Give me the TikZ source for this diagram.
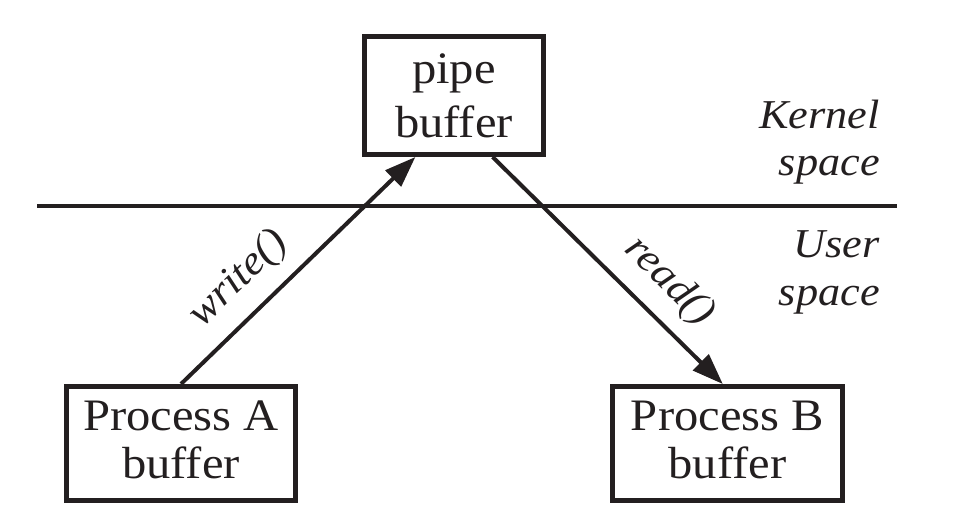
\documentclass[tikz,border=0pt]{standalone}
\usepackage{fontspec}
\setmainfont[FakeStretch=1.08]{Liberation Serif}
\usetikzlibrary{arrows.meta,calc}
\definecolor{ink}{HTML}{231F20}
\begin{document}
\begin{tikzpicture}[x=1pt,y=-1pt,
  box/.style={draw=ink, text=ink, line width=5pt, align=center, inner sep=0pt,
    font=\fontsize{45}{48}\selectfont},
  conn/.style={draw=ink, line width=4pt, -{Triangle[length=31pt,width=22pt]}},
  lbl/.style={text=ink, inner sep=0pt, font=\fontsize{41}{46}\selectfont\itshape},
  sep/.style={draw=ink, line width=3.5pt}]
\useasboundingbox (0,0) rectangle (959,517);
\node[box, font=\fontsize{45}{54}\selectfont, minimum width=179pt, minimum height=118pt] (pipe) at (454,95.5) {pipe\\buffer};
\node[box, minimum width=229pt, minimum height=114pt] (pa) at (181,443.5) {Process A\\buffer\rule[-8pt]{0pt}{8pt}};
\node[box, minimum width=230pt, minimum height=114pt] (pb) at (727.5,443.5) {Process B\\buffer\rule[-8pt]{0pt}{8pt}};
\coordinate (sl) at (37,206);
\coordinate (sr) at (897,206);
\draw[sep] (sl) -- (sr);
\node[lbl, anchor=base east] (k1) at (880,128) {Kernel};
\node[lbl, anchor=base east] (k2) at (880,175) {space};
\node[lbl, anchor=base east] (u1) at (880,257) {User};
\node[lbl, anchor=base east] (u2) at (880,305) {space};
\coordinate (wend) at ($(pipe.south west)!0.29!(pipe.south east)$);
\coordinate (rstart) at ($(pipe.south west)!0.71!(pipe.south east)$);
\coordinate (rend) at ($(pb.north west)!0.48!(pb.north east)$);
\draw[conn] (pa.north) -- node[lbl, sloped, pos=0.35, anchor=base, yshift=25pt] (wl) {write()} (wend);
\draw[conn] (rstart) -- node[lbl, sloped, pos=0.66, anchor=base, yshift=25pt] (rl) {read()} (rend);
\end{tikzpicture}
\end{document}
